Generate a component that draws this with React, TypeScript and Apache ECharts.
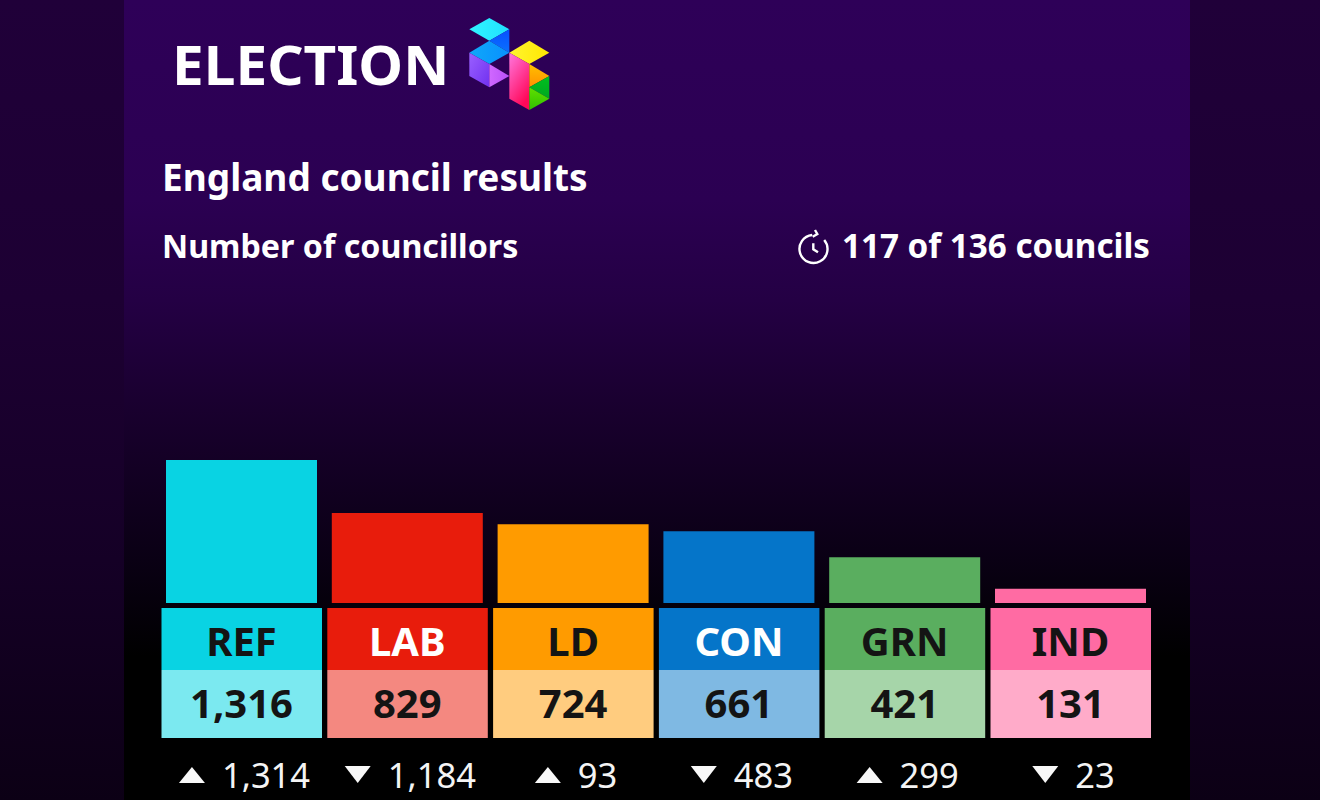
import React, { useEffect, useRef } from "react";
import * as echarts from "echarts";

const parties = ["REF", "LAB", "LD", "CON", "GRN", "IND"];
const seats = [1316, 829, 724, 661, 421, 131];
const changes = [1314, -1184, 93, -483, 299, -23];
const colors = ["#09d3e3", "#e81c0c", "#ff9b00", "#0575c9", "#5aae5f", "#ff6ba3"];
const lightColors = ["#7be9f0", "#f48880", "#ffcc7f", "#7fb9e3", "#a6d5a9", "#ffabc9"];
const nameColors = ["#141414", "#ffffff", "#141414", "#ffffff", "#141414", "#141414"];

const FONT = '"Noto Sans", sans-serif';
const fmt = (n: number) => Math.abs(n).toLocaleString("en-GB");

const measure = (() => {
  const c = document.createElement("canvas").getContext("2d")!;
  return (t: string, font: string) => {
    c.font = font;
    return c.measureText(t).width;
  };
})();

const lin = (c0: string, c1: string, x = 0, y = 0, x2 = 1, y2 = 1) =>
  new echarts.graphic.LinearGradient(x, y, x2, y2, [
    { offset: 0, color: c0 },
    { offset: 1, color: c1 },
  ]);

const P = (pts: number[][]) => pts.map(([x, y]) => [440 + x / 3, y / 3]);
const logoFaces: [number[][], any][] = [
  [[[88, 88], [148, 54], [208, 88], [148, 122]], lin("#30f5ff", "#20e0ff", 0, 0, 1, 0)],
  [[[148, 122], [208, 88], [208, 158]], lin("#0850ff", "#0a70ff", 0, 0, 0, 1)],
  [[[88, 158], [148, 122], [208, 158], [148, 192]], lin("#10a8f8", "#0890ff", 0, 0, 1, 0)],
  [[[88, 158], [148, 192], [148, 262], [88, 228]], lin("#9a60ff", "#7030f0", 0, 0, 1, 1)],
  [[[148, 192], [208, 228], [148, 262]], lin("#d068ff", "#b850f8", 0, 0, 1, 0)],
  [[[208, 158], [268, 122], [328, 158], [268, 192]], lin("#fff430", "#ffe800", 0, 0, 1, 0)],
  [[[208, 158], [268, 192], [268, 330], [208, 296]], lin("#ff78e0", "#ff0858", 0, 0, 0.5, 1)],
  [[[268, 192], [328, 228], [268, 262]], lin("#ffc000", "#ff9000", 0, 0, 0, 1)],
  [[[268, 262], [328, 228], [328, 296]], lin("#00c020", "#00a820", 0, 0, 0, 1)],
  [[[268, 262], [328, 296], [268, 330]], lin("#60e000", "#30c000", 0, 0, 0, 1)],
];

const whiteText = (text: string, x: number, y: number, font: string, align = "left", scaleX = 1) => ({
  type: "text",
  silent: true,
  x,
  y,
  scaleX,
  style: { text, x: 0, y: 0, font, fill: "#ffffff", align, verticalAlign: "middle" },
});

const renderBoxes = (_p: any, api: any) => {
  const i = api.value(0);
  const [cx] = api.coord([i, 0]);
  const left = cx - 80;
  const delta = changes[i];
  const changeFont = `400 34.5px ${FONT}`;
  const label = fmt(delta);
  const w = 26 + 17 + measure(label, changeFont);
  const ax = cx - w / 2 + 3;
  const tri =
    delta >= 0
      ? [[ax, 783], [ax + 26, 783], [ax + 13, 767]]
      : [[ax, 766], [ax + 26, 766], [ax + 13, 783]];
  return {
    type: "group",
    children: [
      { type: "rect", shape: { x: left, y: 608, width: 160.5, height: 62 }, style: { fill: colors[i] } },
      { type: "rect", shape: { x: left, y: 670, width: 160.5, height: 68 }, style: { fill: lightColors[i] } },
      {
        type: "text",
        style: { text: parties[i], x: cx, y: 640, font: `700 40px ${FONT}`, fill: nameColors[i], align: "center", verticalAlign: "middle" },
      },
      {
        type: "text",
        style: { text: fmt(seats[i]), x: cx, y: 702, font: `700 40px ${FONT}`, fill: "#141414", align: "center", verticalAlign: "middle" },
      },
      { type: "polygon", shape: { points: tri }, style: { fill: "#f8f8f8" } },
      {
        type: "text",
        style: { text: label, x: ax + 43, y: 774, font: changeFont, fill: "#f4f4f4", align: "left", verticalAlign: "middle" },
      },
    ],
  };
};

export default function App() {
  const ref = useRef<HTMLDivElement>(null);
  useEffect(() => {
    document.body.style.margin = "0";
    document.body.style.background = "#000";
    const chart = echarts.init(ref.current!, undefined, { renderer: "svg" });
    chart.setOption({
      animation: false,
      backgroundColor: new echarts.graphic.LinearGradient(0, 0, 0, 1, [
        { offset: 0, color: "#200039" },
        { offset: 0.375, color: "#1d0033" },
        { offset: 0.7, color: "#150026" },
        { offset: 1, color: "#0c0015" },
      ]),
      grid: { left: 158.6, width: 994.8, top: 450.8, height: 152.2, containLabel: false },
      xAxis: { type: "category", data: parties, show: false },
      yAxis: { type: "value", min: 0, max: 1400, show: false },
      graphic: [
        {
          type: "rect",
          z: -10,
          silent: true,
          shape: { x: 124, y: 0, width: 1066, height: 800 },
          style: {
            fill: new echarts.graphic.LinearGradient(0, 0, 0, 1, [
              { offset: 0, color: "#2e0058" },
              { offset: 0.25, color: "#2b0052" },
              { offset: 0.375, color: "#240044" },
              { offset: 0.5, color: "#1a0030" },
              { offset: 0.7, color: "#0a0014" },
              { offset: 0.82, color: "#000000" },
              { offset: 1, color: "#000000" },
            ]),
          },
        },
        whiteText("ELECTION", 172, 64.5, `700 53px ${FONT}`, "left", 1.07),
        whiteText("England council results", 162, 176, `700 37px ${FONT}`),
        whiteText("Number of councillors", 162, 245.5, `700 32.2px ${FONT}`),
        whiteText("117 of 136 councils", 1150, 245.5, `700 33.2px ${FONT}`, "right"),
        ...logoFaces.map(([pts, fill]) => ({
          type: "polygon",
          silent: true,
          shape: { points: P(pts) },
          style: { fill },
        })),
        {
          type: "arc",
          silent: true,
          shape: { cx: 813.5, cy: 249, r: 14, startAngle: -0.7, endAngle: 4.62, clockwise: true },
          style: { stroke: "#ffffff", lineWidth: 2.4, fill: "none" },
        },
        {
          type: "polyline",
          silent: true,
          shape: { points: [[815, 230], [817.3, 234], [812.7, 236.7]] },
          style: { stroke: "#ffffff", lineWidth: 2.4, fill: "none" },
        },
        {
          type: "polyline",
          silent: true,
          shape: { points: [[813.3, 243.3], [813.3, 249.3], [818, 252.3]] },
          style: { stroke: "#ffffff", lineWidth: 2.4, fill: "none" },
        },
      ],
      series: [
        {
          type: "bar",
          barWidth: 151,
          data: seats.map((v, i) => ({ value: v, itemStyle: { color: colors[i] } })),
          silent: true,
        },
        {
          type: "custom",
          data: parties.map((_, i) => [i]),
          encode: { x: 0 },
          clip: false,
          silent: true,
          renderItem: renderBoxes,
        },
      ],
    });
    return () => chart.dispose();
  }, []);
  return <div ref={ref} style={{ width: 1320, height: 800 }} />;
}
